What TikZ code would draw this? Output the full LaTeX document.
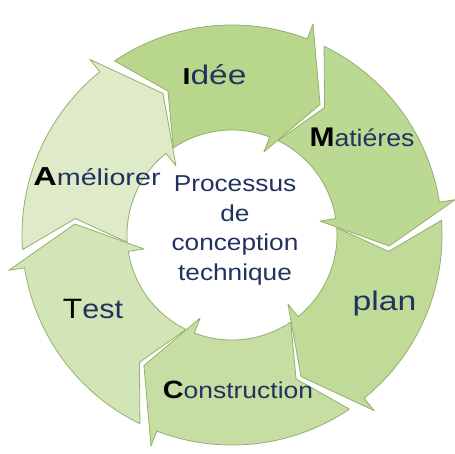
\documentclass[tikz,border=0pt]{standalone}
\usepackage{fontspec}
\setmainfont{Liberation Sans}
\usepackage{graphicx}
\definecolor{cA}{HTML}{B8D68C}
\definecolor{cB}{HTML}{BCD993}
\definecolor{cC}{HTML}{C0DB98}
\definecolor{cD}{HTML}{C6DEA2}
\definecolor{cE}{HTML}{D3E5B6}
\definecolor{cF}{HTML}{DFEBC8}
\definecolor{txt}{HTML}{22325F}
\definecolor{edge}{HTML}{93B06C}
\tikzset{
  arrowshape/.style={draw=edge, line width=0.8pt, line join=round},
  lbl/.style={inner sep=0pt, anchor=base, text=txt},
}
\newcommand{\fs}[1]{\fontsize{#1}{#1}\selectfont}
\begin{document}
\begin{tikzpicture}[x=1pt,y=1pt]
\useasboundingbox (0,0) rectangle (455,453);
\fill[white] (0,0) rectangle (455,453);
\begin{scope}[shift={(232,218)}]
\foreach \A/\col in {124/cA,64/cB,4/cC,-56/cD,-116/cE,-176/cF} {
  \pgfmathsetmacro\B{\A-55}
  \pgfmathsetmacro\T{\A-68}
  \pgfmathsetmacro\N{\A-10}
  \draw[arrowshape, fill=\col]
    (\A:210pt) arc[start angle=\A, end angle=\B, radius=210pt]
    -- (\B:226pt) -- (\T:157.5pt) -- (\B:89pt) -- (\B:105pt)
    arc[start angle=\B, end angle=\A, radius=105pt]
    -- (\N:157.5pt) -- cycle;
}
\end{scope}
% labels
\node[lbl] (idee) at (214.5,368) {\scalebox{1.24}[1]{\fs{27}{\color{black}\fs{23}\bfseries I}dée}};
\node[lbl] (mat) at (362,306) {\scalebox{1.11}[1]{\fs{24}{\color{black}\fs{27}\bfseries M}atiéres}};
\node[lbl] (plan) at (384.5,143) {\scalebox{1.25}[1]{\fs{27}plan}};
\node[lbl] (cons) at (238,55) {\scalebox{1.15}[1]{\fs{23}{\color{black}\fs{25}\bfseries C}onstruction}};
\node[lbl] (test) at (93,135) {\scalebox{1.13}[1]{\fs{27}{\color{black}\fs{28}T}est}};
\node[lbl] (amel) at (97,267) {\scalebox{1.25}[1]{\fs{23}{\color{black}\fs{26}\bfseries A}méliorer}};
% centre
\node[lbl] (c1) at (235,261) {\scalebox{1.14}[1]{\fs{23}Processus}};
\node[lbl] (c2) at (235,231) {\scalebox{1.14}[1]{\fs{23}de}};
\node[lbl] (c3) at (235,202) {\scalebox{1.14}[1]{\fs{23}conception}};
\node[lbl] (c4) at (235,173) {\scalebox{1.14}[1]{\fs{23}technique}};
\end{tikzpicture}
\end{document}
